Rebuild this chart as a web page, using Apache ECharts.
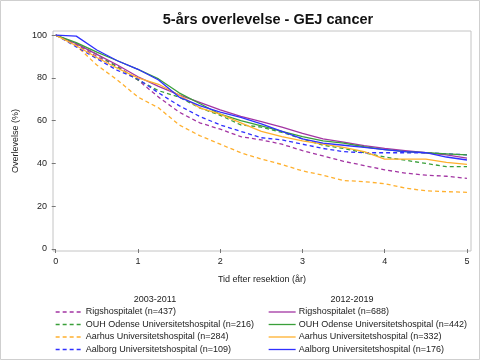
<!DOCTYPE html>
<html>
<head>
<meta charset="utf-8">
<script src="https://cdn.jsdelivr.net/npm/echarts@6/dist/echarts.min.js"></script>
<style>
html,body{margin:0;padding:0;background:#fff;}
#c{width:480px;height:360px;}
</style>
</head>
<body>
<div id="c"></div>
<script>
// ---- data ----
var years = [0,0.25,0.5,0.75,1,1.25,1.5,1.75,2,2.25,2.5,2.75,3,3.25,3.5,3.75,4,4.25,4.5,4.75,5];
var xTicks = [0,1,2,3,4,5];
var yTicks = [0,20,40,60,80,100];

var names0311 = ['Rigshospitalet (n=437)','OUH Odense Universitetshospital (n=216)','Aarhus Universitetshospital (n=284)','Aalborg Universitetshospital (n=109)'];
var names1219 = ['Rigshospitalet (n=688)','OUH Odense Universitetshospital (n=442)','Aarhus Universitetshospital (n=332)','Aalborg Universitetshospital (n=176)'];

var rigs0311    = [100,95.5,90,85.5,79,71,64,59,56,52.5,51,49,46,43.5,41,39,37,35.5,34.5,34,33];
var ouh0311     = [100,96,91,85,79,74,71,66,62.5,58,57,54.5,51.5,48.5,47,45,43,41.5,40,38.5,38.5];
var aarhus0311  = [100,95,86,79,71,66,58,53,49,45,42,39.5,36.5,34.5,32,31.5,30.5,28.5,27.2,26.8,26.5];
var aalborg0311 = [100,94.5,89,83.5,79.5,73,67,62,58,55,52,51,49,47,45.5,45,45,45,45,44.5,44];

var rigs1219    = [100,96,91,86,80.5,76,72,68.5,65,62,59.5,57,54,51.5,50,48.3,47,46,45,44,42.5];
var ouh1219     = [100,96.5,92,88,84,79.5,73,68,63,60,57.5,55,52.5,50.5,49.5,47.8,46.5,45.5,45,44.5,44];
var aarhus1219  = [100,95,89.5,84.5,80,77,72,66,63,59,55,52.5,50.5,49,47.5,45.5,42,42,42,40.5,39.6];
var aalborg1219 = [100,99.5,93,88,84,79,71,67,64,61.5,58.5,55,51.5,49.5,48.5,47.5,46.5,45.5,45,43,41.6];

var colors = ['#A335A3','#3A9F3A','#FFB02E','#3030FF'];
var values0311 = [rigs0311, ouh0311, aarhus0311, aalborg0311];
var values1219 = [rigs1219, ouh1219, aarhus1219, aalborg1219];
var DASH = [4,3];

function zip(v){ return years.map(function(t,i){ return [t, v[i]]; }); }

var series = [];
values0311.forEach(function(v,i){
  series.push({type:'line', name:names0311[i], data:zip(v), symbol:'none', silent:true,
    lineStyle:{color:colors[i], width:1.3, type:DASH}, itemStyle:{color:colors[i]}});
});
values1219.forEach(function(v,i){
  series.push({type:'line', name:names1219[i], data:zip(v), symbol:'none', silent:true,
    lineStyle:{color:colors[i], width:1.3, type:'solid'}, itemStyle:{color:colors[i]}});
});

function legendItems(names, dash){
  return names.map(function(n,i){
    return {name:n, itemStyle:{opacity:0},
      lineStyle:{color:colors[i], width:1.3, type:dash, opacity:1}};
  });
}

var FONT = 'Liberation Sans';
var chart = echarts.init(document.getElementById('c'), null, {renderer:'canvas'});
var legendCommon = {orient:'vertical', itemWidth:27, itemHeight:8, itemGap:3.5, padding:0,
  textStyle:{fontFamily:FONT, fontSize:9, color:'#222', padding:[0,0,0,-2]}, selectedMode:false};

chart.setOption({
  animation:false,
  textStyle:{fontFamily:FONT},
  title:{text:'5-års overlevelse - GEJ cancer', left:263, top:7, textAlign:'center',
    textStyle:{fontFamily:FONT, fontWeight:'bold', fontSize:14.5, color:'#111'}},
  grid:{left:53, top:31, width:418, height:220, show:true, borderColor:'#c4c4c4', borderWidth:1},
  xAxis:{type:'value', min:-0.033, max:5.049,
    name:'Tid efter resektion (år)', nameLocation:'middle', nameGap:24,
    nameTextStyle:{fontFamily:FONT, fontSize:9, color:'#222'},
    axisLine:{show:false}, splitLine:{show:false},
    axisTick:{show:true, length:4, inside:false, customValues:xTicks, lineStyle:{color:'#777'}},
    axisLabel:{customValues:xTicks, fontFamily:FONT, fontSize:9, color:'#222', margin:6}},
  yAxis:{type:'value', min:-0.93, max:101.9,
    name:'Overlevelse (%)', nameLocation:'middle', nameGap:33, nameRotate:90,
    nameTextStyle:{fontFamily:FONT, fontSize:9, color:'#222'},
    axisLine:{show:false}, splitLine:{show:false},
    axisTick:{show:true, length:4, inside:false, customValues:yTicks, lineStyle:{color:'#777'}},
    axisLabel:{customValues:yTicks, fontFamily:FONT, fontSize:9, color:'#222', margin:6}},
  legend:[
    Object.assign({}, legendCommon, {left:55, top:307.5, data:legendItems(names0311, DASH)}),
    Object.assign({}, legendCommon, {left:268, top:307.5, data:legendItems(names1219, 'solid')})
  ],
  graphic:[
    {type:'rect', shape:{x:0.5, y:0.5, width:479, height:359}, style:{fill:null, stroke:'#cfcfcf', lineWidth:1}, silent:true},
    {type:'text', x:155, y:300, style:{text:'2003-2011', fontFamily:FONT, fontSize:9, fill:'#222', textAlign:'center', textVerticalAlign:'middle'}},
    {type:'text', x:352, y:300, style:{text:'2012-2019', fontFamily:FONT, fontSize:9, fill:'#222', textAlign:'center', textVerticalAlign:'middle'}}
  ],
  series:series
});
</script>
</body>
</html>
